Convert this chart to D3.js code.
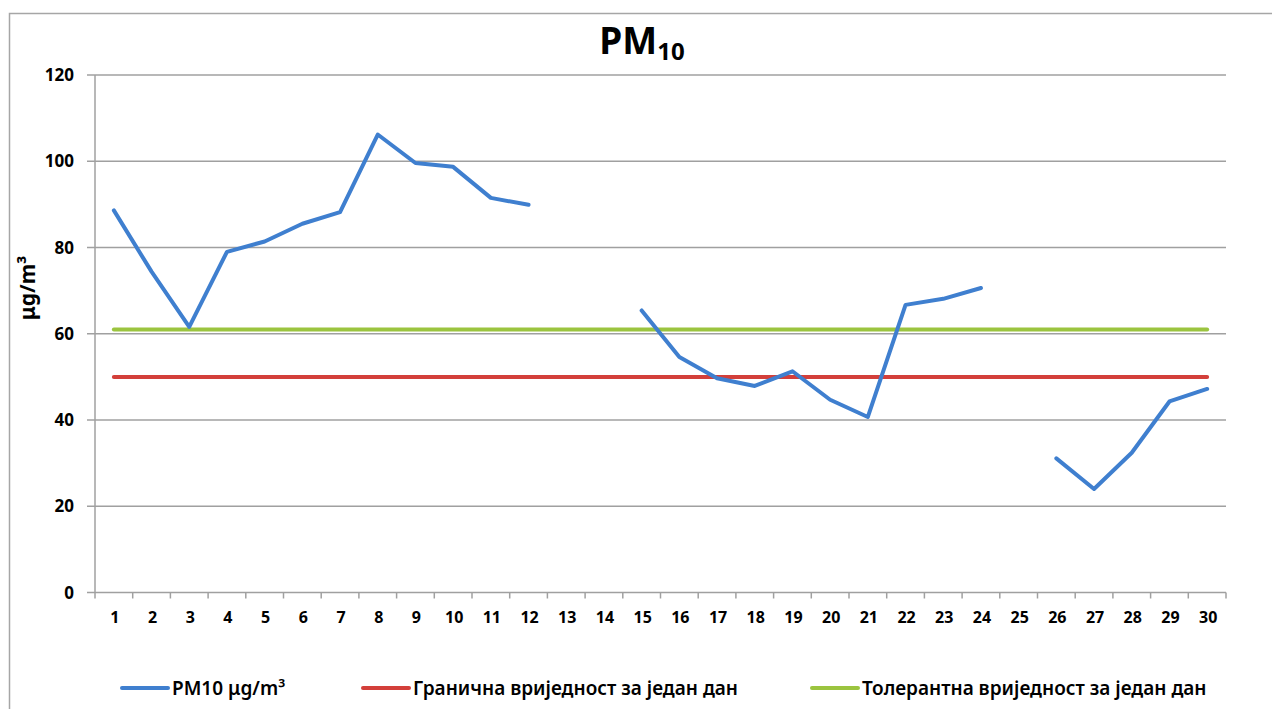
<!DOCTYPE html>
<html>
<head>
<meta charset="utf-8">
<script src="https://cdn.jsdelivr.net/npm/d3@7"></script>
<style>
  body { margin: 0; background: #fff; }
  text { font-family: "Noto Sans", "Open Sans", sans-serif; fill: #000; }
</style>
</head>
<body>
<script>
const days = ['1','2','3','4','5','6','7','8','9','10','11','12','13','14','15',
  '16','17','18','19','20','21','22','23','24','25','26','27','28','29','30'];
const pm10 = [88.6, 74.4, 61.6, 79.0, 81.4, 85.5, 88.2, 106.2, 99.6, 98.7, 91.5, 89.9,
  null, null, 65.4, 54.6, 49.7, 47.9, 51.3, 44.7, 40.7, 66.7, 68.1, 70.6,
  null, 31.1, 24.0, 32.4, 44.3, 47.2];
const limitValue = 50;
const toleranceValue = 61;
const yTicks = [0, 20, 40, 60, 80, 100, 120];
const seriesNames = ['PM10 μg/m³', 'Гранична вриједност за један дан', 'Толерантна вриједност за један дан'];
const colors = ['#3f7fcf', '#d33f3a', '#9bc43f'];

const w = 1272, h = 709;
const svg = d3.select('body').append('svg').attr('width', w).attr('height', h);

// outer chart frame (only top and left edges show in the picture)
svg.append('path')
  .attr('d', `M9.5,${h} V13.5 H${w}`)
  .attr('fill', 'none').attr('stroke', '#a6a6a6').attr('stroke-width', 1.5);

const x = d3.scaleBand().domain(days).range([95, 1226]);
const y = d3.scaleLinear().domain([0, 120]).range([592.5, 75]);
const cx = d => x(d) + x.bandwidth() / 2;

// gridlines
svg.append('g').selectAll('line').data(yTicks).enter().append('line')
  .attr('x1', 87).attr('x2', 1226)
  .attr('y1', d => y(d)).attr('y2', d => y(d))
  .attr('stroke', '#a0a0a0').attr('stroke-width', 1.5);

// y axis
svg.append('line').attr('x1', 95).attr('x2', 95).attr('y1', y(120)).attr('y2', y(0))
  .attr('stroke', '#a0a0a0').attr('stroke-width', 1.5);
svg.append('g').selectAll('text').data(yTicks).enter().append('text')
  .attr('x', 74).attr('y', d => y(d)).attr('dy', '0.36em')
  .attr('text-anchor', 'end').attr('font-size', 17).attr('font-weight', 'bold')
  .text(d => d);

// x axis ticks between categories
const edges = days.map(d => x(d)).concat([x.range()[1]]);
svg.append('g').selectAll('line').data(edges).enter().append('line')
  .attr('x1', d => d).attr('x2', d => d).attr('y1', y(0)).attr('y2', y(0) + 6)
  .attr('stroke', '#a0a0a0').attr('stroke-width', 1.5);
svg.append('g').selectAll('text').data(days).enter().append('text')
  .attr('x', d => cx(d) + 1).attr('y', 617).attr('dy', '0.36em')
  .attr('text-anchor', 'middle').attr('font-size', 16).attr('font-weight', 'bold')
  .text(d => d);

// limit lines
[[limitValue, colors[1]], [toleranceValue, colors[2]]].forEach(([v, c]) => {
  svg.append('line')
    .attr('x1', cx(days[0])).attr('x2', cx(days[days.length - 1]))
    .attr('y1', y(v)).attr('y2', y(v))
    .attr('stroke', c).attr('stroke-width', 4).attr('stroke-linecap', 'round');
});

// PM10 series
const line = d3.line()
  .defined(d => d[1] !== null)
  .x(d => cx(d[0]))
  .y(d => y(d[1]));
svg.append('path')
  .datum(days.map((d, i) => [d, pm10[i]]))
  .attr('d', line)
  .attr('fill', 'none').attr('stroke', colors[0]).attr('stroke-width', 4)
  .attr('stroke-linecap', 'round').attr('stroke-linejoin', 'round');

// title
const title = svg.append('text').attr('x', 642).attr('y', 54)
  .attr('text-anchor', 'middle').attr('font-weight', 'bold').attr('font-size', 37);
title.append('tspan').text('PM');
title.append('tspan').attr('font-size', 24).attr('dy', 6).text('10');

// y axis title
svg.append('text')
  .attr('transform', 'translate(27,288) rotate(-90)')
  .attr('text-anchor', 'middle').attr('dy', '0.36em')
  .attr('font-size', 21).attr('font-weight', 'bold')
  .text('μg/m³');

// legend
const legendX = [122, 363, 812];
const lg = svg.append('g').selectAll('g').data(seriesNames).enter().append('g')
  .attr('transform', (d, i) => `translate(${legendX[i]},688)`);
lg.append('line').attr('x1', 0).attr('x2', 46).attr('y1', 0).attr('y2', 0)
  .attr('stroke', (d, i) => colors[i]).attr('stroke-width', 4).attr('stroke-linecap', 'round');
lg.append('text').attr('x', 50).attr('dy', '0.36em')
  .attr('font-size', 19).attr('font-weight', 600)
  .text(d => d);
</script>
</body>
</html>
